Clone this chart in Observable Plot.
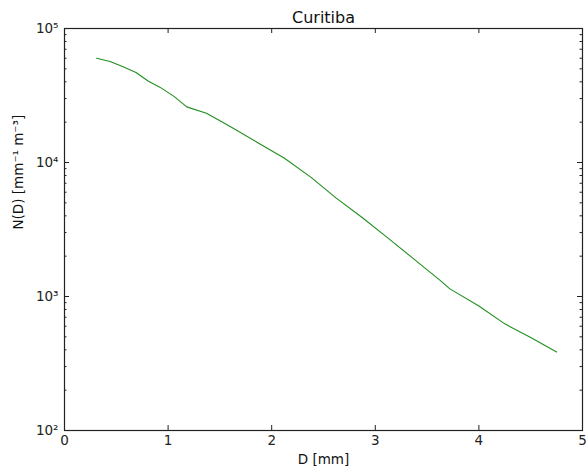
<!DOCTYPE html>
<html>
<head>
<meta charset="utf-8">
<script src="https://cdn.jsdelivr.net/npm/d3@7"></script>
<script src="https://cdn.jsdelivr.net/npm/@observablehq/plot@0.6"></script>
<style>
  body { margin: 0; background: #fff; }
  #chart svg { display: block; }
</style>
</head>
<body>
<div id="chart"></div>
<script>
// ---- data ----
const diameters = [0.31, 0.44, 0.56, 0.69, 0.81, 0.92, 1.06, 1.18, 1.37, 1.44, 1.62, 1.87, 2.12, 2.38, 2.62, 2.87, 3.12, 3.37, 3.62, 3.72, 4.0, 4.25, 4.5, 4.75];
const concentrations = [60000, 56700, 52000, 47000, 40400, 36500, 31000, 26000, 23300, 21800, 18200, 14000, 10800, 7750, 5450, 3900, 2740, 1910, 1330, 1140, 850, 625, 495, 385];
const xTicks = [0, 1, 2, 3, 4, 5];
const xTickLabels = ["0", "1", "2", "3", "4", "5"];
const yTicks = [100, 1000, 10000, 100000];
const yTickLabels = ["10²", "10³", "10⁴", "10⁵"];
const yMinorTicks = [200, 300, 400, 500, 600, 700, 800, 900,
                     2000, 3000, 4000, 5000, 6000, 7000, 8000, 9000,
                     20000, 30000, 40000, 50000, 60000, 70000, 80000, 90000];
const titleText = "Curitiba";
const xLabelText = "D [mm]";
const yLabelText = "N(D) [mm⁻¹ m⁻³]";

const data = diameters.map((d, i) => ({D: d, N: concentrations[i]}));

const W = 586, H = 473;
const mTop = 28, mRight = 4, mBottom = 43, mLeft = 64;
const plotW = W - mLeft - mRight, plotH = H - mTop - mBottom;
const major = 5, minor = 2.5;
const axisColor = "#222";
const font = "'DejaVu Sans', sans-serif";

const chart = Plot.plot({
  width: W,
  height: H,
  marginTop: mTop,
  marginRight: mRight,
  marginBottom: mBottom,
  marginLeft: mLeft,
  style: {fontFamily: font, fontSize: "13.5px", background: "#fff", color: "#222"},
  x: {type: "linear", domain: [0, 5]},
  y: {type: "log", domain: [100, 100000]},
  marks: [
    // x tick labels
    Plot.axisX(xTicks, {anchor: "bottom", tickSize: 0, tickPadding: 5, label: null,
      tickFormat: (d) => xTickLabels[xTicks.indexOf(d)], fontSize: 13.5}),
    // y tick labels
    Plot.axisY(yTicks, {anchor: "left", tickSize: 0, tickPadding: 6, label: null,
      tickFormat: (d) => yTickLabels[yTicks.indexOf(d)], fontSize: 13.5}),
    // inward major ticks on x (bottom & top)
    Plot.tickX(xTicks, {x: (d) => d, insetTop: plotH - major, stroke: axisColor}),
    Plot.tickX(xTicks, {x: (d) => d, insetBottom: plotH - major, stroke: axisColor}),
    // inward major ticks on y (left & right)
    Plot.tickY(yTicks, {y: (d) => d, insetRight: plotW - major, stroke: axisColor}),
    Plot.tickY(yTicks, {y: (d) => d, insetLeft: plotW - major, stroke: axisColor}),
    // inward minor ticks on y
    Plot.tickY(yMinorTicks, {y: (d) => d, insetRight: plotW - minor, stroke: axisColor}),
    Plot.tickY(yMinorTicks, {y: (d) => d, insetLeft: plotW - minor, stroke: axisColor}),
    // data line
    Plot.line(data, {x: "D", y: "N", stroke: "#1f8f1f", strokeWidth: 1.1}),
    // frame
    Plot.frame({stroke: axisColor, strokeWidth: 1.2}),
    // title and axis labels
    Plot.text([titleText], {frameAnchor: "top", dy: -17, fontSize: 16, fill: "#111"}),
    Plot.text([xLabelText], {frameAnchor: "bottom", dy: 33, fontSize: 13.5, fill: "#111"}),
    Plot.text([yLabelText], {frameAnchor: "left", dx: -46, rotate: -90, fontSize: 13.5, fill: "#111"})
  ]
});

document.getElementById("chart").append(chart);
</script>
</body>
</html>
